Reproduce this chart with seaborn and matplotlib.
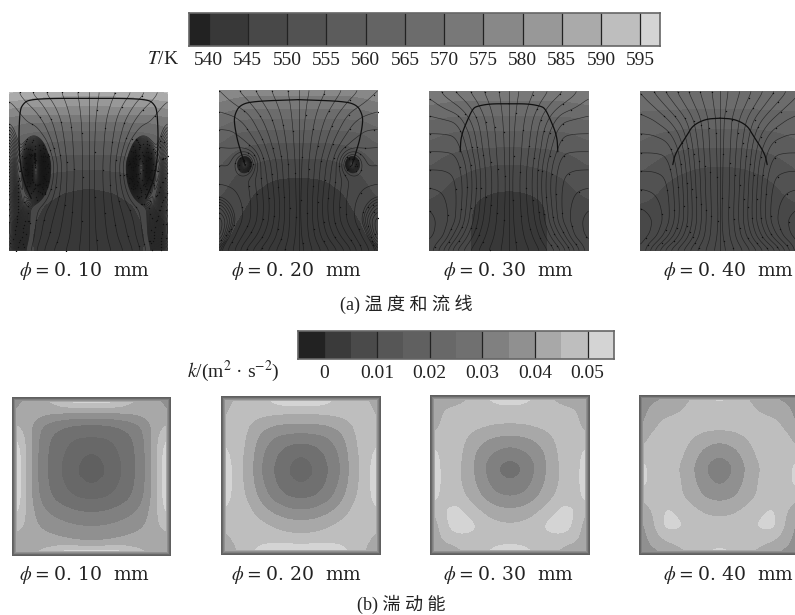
import matplotlib
matplotlib.use("Agg")
import matplotlib.pyplot as plt
from matplotlib.colors import BoundaryNorm, ListedColormap
import numpy as np
import seaborn as sns

W, H = 795, 615

# colour bars
temp_ticks = [540, 545, 550, 555, 560, 565, 570, 575, 580, 585, 590, 595]
temp_greys = ["#222222", "#383838", "#484848", "#525252", "#5c5c5c", "#646464", "#6c6c6c",
              "#787878", "#888888", "#989898", "#aaaaaa", "#bebebe", "#d4d4d4"]
k_ticks = [0, 0.01, 0.02, 0.03, 0.04, 0.05]
k_levels = [0, 0.005, 0.01, 0.015, 0.02, 0.025, 0.03, 0.035, 0.04, 0.045, 0.05]
k_greys = ["#222222", "#3a3a3a", "#4a4a4a", "#565656", "#606060", "#686868", "#707070",
           "#808080", "#909090", "#a8a8a8", "#bebebe", "#d4d4d4"]

diameters = ["0. 10", "0. 20", "0. 30", "0. 40"]

# all fields: rows run top to bottom, columns run wall to centre (right half is the mirror)
temp_1 = [[592, 590, 588, 587.5, 587, 587, 587],
          [581, 580, 580, 580, 580, 580, 580],
          [573, 571, 570.5, 570.5, 570.5, 570.5, 570.5],
          [567, 564, 563, 562.5, 562, 562, 562],
          [563, 560, 558, 557, 556.5, 556.5, 556.5],
          [560, 556, 554, 552.5, 552, 551.5, 551.5],
          [558, 553.5, 551, 549, 548, 547.5, 547.5],
          [556, 552, 548.5, 546.5, 545, 544.5, 544],
          [553, 550, 546, 544, 543.5, 543, 542.5],
          [550.5, 548, 544.8, 543.5, 543, 542.5, 542],
          [548, 547, 544.3, 543.5, 542.5, 542, 542],
          [546, 546, 544.8, 544, 543, 542, 542]]
temp_2 = [[580, 578, 577, 577, 577, 577, 577],
          [574, 572.5, 572, 572, 572, 572, 572],
          [568, 565.5, 565, 564.5, 564.5, 564.5, 564.5],
          [563, 560, 559, 558.5, 558.5, 558.5, 558.5],
          [559, 556, 554.5, 553.5, 553, 553, 553],
          [556, 552.5, 551, 549.8, 549, 548.8, 548.8],
          [553.5, 550, 548, 546.5, 545.2, 544.8, 544.8],
          [551, 548, 546, 544.5, 543.5, 543, 543],
          [548.5, 546.5, 545, 543.5, 542.8, 542.2, 542],
          [547, 545.5, 544, 543, 542.3, 542, 542],
          [546, 544.8, 543.3, 542.5, 542, 542, 542],
          [544.5, 543.5, 542.5, 542, 542, 542, 542]]
temp_3 = [[573, 572.5, 572, 572, 572, 572, 572],
          [570, 569.5, 569, 569, 569, 569, 569],
          [565, 564, 563.5, 563.5, 563.5, 563.5, 563.5],
          [561.5, 560, 559, 558.7, 558.5, 558.5, 558.5],
          [558, 556.5, 555.5, 555, 554.7, 554.5, 554.5],
          [555.5, 553.8, 552.5, 551.5, 550.8, 550.2, 550],
          [553, 551.5, 550, 548.8, 547.8, 547.2, 547],
          [551, 549.8, 548, 546.8, 545.5, 544.9, 544.7],
          [549, 548, 547, 545.6, 543.8, 543.2, 543],
          [547.5, 547, 546.5, 545.5, 543, 542.5, 542.3],
          [546.5, 546.3, 546, 545.5, 543, 542.3, 542],
          [546, 546, 546, 545.5, 543, 542.3, 542]]
temp_4 = [[568, 567.5, 567, 567, 567, 567, 567],
          [566, 566, 566, 566, 566, 566, 566],
          [563.5, 563, 562.5, 562.2, 562, 562, 562],
          [561, 560, 559.2, 558.8, 558.5, 558.5, 558.5],
          [559, 557.5, 556.2, 555.3, 554.8, 554.7, 554.7],
          [556.5, 554.8, 553, 551.7, 550.8, 550.4, 550.4],
          [554, 552.2, 550.5, 549.4, 548.8, 548.5, 548.5],
          [552, 550.5, 549, 548.2, 547.8, 547.5, 547.5],
          [549.5, 548.8, 548, 547.3, 546.8, 546.5, 546.5],
          [547.5, 547.3, 547, 546.6, 546.2, 546, 546],
          [546.5, 546.5, 546.4, 546.2, 546, 546, 546],
          [546, 546, 546, 546, 546, 546, 546]]

# stream function, one contour per streamline
psi_1 = [[8, 6.5, 5, 3.6, 2.4, 1.2, 0],
         [9, 7.8, 6.6, 4.8, 3.1, 1.5, 0],
         [10, 8.8, 8, 6, 3.8, 1.8, 0],
         [11, 9, 10, 7, 4.2, 2, 0],
         [12, 9.5, 16, 8.5, 4.6, 2.1, 0],
         [13, 9.5, 24, 10.5, 5, 2.2, 0],
         [14, 9.5, 22, 10, 5, 2.2, 0],
         [15, 10.5, 14, 8.5, 4.8, 2.1, 0],
         [15.5, 11.5, 9, 6.8, 4.4, 2, 0],
         [16, 12, 8.4, 6, 4, 1.9, 0],
         [16, 12, 8, 5.5, 3.6, 1.7, 0],
         [15, 11, 7, 4.6, 2.9, 1.4, 0]]
psi_2 = [[7, 6, 4.8, 3.6, 2.4, 1.2, 0],
         [8, 7.2, 6.2, 4.6, 3.1, 1.6, 0],
         [9.2, 9, 8, 6, 4, 2, 0],
         [10.4, 10.3, 9.2, 7.2, 4.8, 2.4, 0],
         [11.6, 11.5, 11, 8.6, 5.6, 2.8, 0],
         [12.8, 12.8, 22, 10, 6.6, 3.2, 0],
         [14, 13.8, 13.5, 10.6, 7, 3.4, 0],
         [15.2, 14.8, 13.8, 11, 7.5, 3.6, 0],
         [16.4, 15.5, 14.2, 11.2, 7.8, 3.8, 0],
         [17, 16, 14, 11, 7.5, 3.7, 0],
         [17, 15.2, 12.3, 9.5, 6.5, 3.3, 0],
         [16, 13.5, 9.8, 7, 4.6, 2.3, 0]]
psi_3 = [[8, 6.7, 5.3, 4, 2.6, 1.3, 0],
         [9.2, 8.3, 7.2, 5.5, 3.5, 1.7, 0],
         [10.4, 10.2, 9.8, 7.2, 4.5, 2.1, 0],
         [11.6, 11.6, 11.4, 8.6, 5, 2.4, 0],
         [12.8, 12.8, 12.6, 9.4, 5.4, 2.6, 0],
         [14, 14, 13.8, 10.5, 6, 2.8, 0],
         [15.2, 15.1, 14.5, 11, 6.3, 3, 0],
         [16.4, 16, 14.8, 11, 6.3, 3, 0],
         [17.5, 16.6, 14.8, 10.5, 6, 2.8, 0],
         [18, 17, 14.5, 9.8, 5.5, 2.6, 0],
         [18, 16.5, 12, 8, 4.5, 2.2, 0],
         [17, 13, 8.5, 5.5, 3.2, 1.6, 0]]
psi_4 = [[10, 8.4, 6.7, 5, 3.3, 1.6, 0],
         [11, 10, 8.3, 6.3, 4.2, 2.1, 0],
         [12, 11.6, 10.3, 8.2, 5.5, 2.8, 0],
         [13.1, 13, 12.3, 9.8, 6.2, 3, 0],
         [14.2, 14.2, 14, 11, 6.8, 3.2, 0],
         [15.4, 15.4, 15.1, 11.8, 7.2, 3.4, 0],
         [16.6, 16.5, 16, 12.3, 7.6, 3.5, 0],
         [17.8, 17.5, 16.5, 12.6, 7.8, 3.6, 0],
         [19, 18.3, 16.8, 12.8, 8, 3.8, 0],
         [20, 19, 16.8, 12.6, 8, 3.8, 0],
         [20, 18.5, 15, 11, 7, 3.4, 0],
         [19, 14.5, 10.5, 7.5, 4.5, 2.2, 0]]

# interface outline, half panel, fractions of the panel
iface_x_1 = [0.5, 0.25, 0.12, 0.09, 0.07, 0.063, 0.063, 0.07, 0.095, 0.14]
iface_y_1 = [0.04, 0.04, 0.05, 0.075, 0.11, 0.23, 0.33, 0.45, 0.57, 0.67]
iface_x_2 = [0.5, 0.21, 0.13, 0.10, 0.095, 0.113, 0.13, 0.165]
iface_y_2 = [0.06, 0.07, 0.095, 0.15, 0.2, 0.3, 0.36, 0.47]
iface_x_3 = [0.5, 0.38, 0.30, 0.275, 0.245, 0.20, 0.195]
iface_y_3 = [0.08, 0.08, 0.095, 0.11, 0.17, 0.28, 0.38]
iface_x_4 = [0.5, 0.41, 0.33, 0.295, 0.22, 0.205]
iface_y_4 = [0.17, 0.175, 0.215, 0.275, 0.39, 0.46]

k_1 = [[.036, .040, .044, .047, .054, .056, .056],
       [.039, .045, .0425, .0415, .041, .0405, .0405],
       [.046, .0435, .036, .032, .03, .0287, .0285],
       [.053, .045, .0345, .029, .026, .024, .0238],
       [.058, .045, .034, .0282, .0245, .021, .019],
       [.059, .045, .034, .028, .0235, .0195, .0165],
       [.059, .045, .034, .0285, .0245, .021, .0195],
       [.058, .045, .035, .03, .027, .0248, .0243],
       [.053, .045, .0375, .034, .032, .0305, .03],
       [.047, .0445, .04, .038, .0365, .0355, .0353],
       [.042, .0435, .043, .042, .041, .0397, .0395],
       [.038, .042, .046, .05, .056, .056, .056]]
k_2 = [[.041, .045, .047, .048, .053, .057, .057],
       [.043, .047, .0478, .0475, .047, .0466, .0465],
       [.046, .0478, .0455, .042, .040, .0392, .039],
       [.049, .048, .0445, .038, .034, .032, .0315],
       [.053, .048, .0435, .0358, .031, .027, .025],
       [.057, .048, .043, .035, .0295, .025, .022],
       [.057, .048, .0435, .0358, .0305, .026, .0245],
       [.055, .048, .0445, .0385, .033, .030, .029],
       [.049, .048, .0465, .0425, .039, .0365, .0355],
       [.046, .048, .048, .0465, .0445, .043, .0425],
       [.042, .046, .0485, .0485, .048, .0475, .047],
       [.038, .044, .048, .053, .058, .058, .058]]
k_3 = [[.040, .040, .042, .045, .049, .053, .055],
       [.040, .0455, .0465, .0475, .048, .048, .0478],
       [.042, .0465, .0478, .047, .046, .0452, .045],
       [.046, .048, .0475, .044, .041, .039, .0385],
       [.053, .048, .047, .042, .037, .034, .032],
       [.056, .0478, .0465, .0415, .0355, .03, .027],
       [.056, .048, .0465, .042, .037, .032, .0305],
       [.053, .048, .0475, .044, .0395, .036, .035],
       [.044, .050, .052, .048, .0445, .042, .0412],
       [.041, .048, .054, .052, .048, .0465, .0458],
       [.040, .046, .047, .048, .048, .048, .048],
       [.04, .040, .043, .047, .049, .053, .056]]
k_4 = [[.036, .038, .040, .042, .045, .049, .052],
       [.037, .042, .043, .0445, .047, .048, .048],
       [.039, .0435, .047, .0475, .0478, .0475, .0473],
       [.042, .047, .048, .0475, .045, .0425, .0413],
       [.0475, .048, .0478, .0465, .0425, .038, .036],
       [.053, .0478, .0468, .0452, .0405, .035, .031],
       [.053, .0478, .047, .0458, .0415, .0365, .034],
       [.046, .048, .0478, .046, .043, .0395, .0382],
       [.041, .0455, .051, .049, .0465, .0445, .0438],
       [.038, .044, .052, .051, .048, .047, .047],
       [.037, .042, .0455, .047, .048, .048, .048],
       [.036, .038, .040, .043, .046, .05, .052]]

# k falls off sharply at the cell walls (distance in panel fractions)
wall_dist = [0, 0.008, 0.016, 0.028, 0.04]
wall_k = [0.012, 0.022, 0.032, 0.042, 0.06]

temp_fields = [temp_1, temp_2, temp_3, temp_4]
psi_fields = [psi_1, psi_2, psi_3, psi_4]
iface_x = [iface_x_1, iface_x_2, iface_x_3, iface_x_4]
iface_y = [iface_y_1, iface_y_2, iface_y_3, iface_y_4]
k_fields = [k_1, k_2, k_3, k_4]
vortex_start = [10, 15.5, None, None]

sns.set_theme(style="white")
plt.rcParams["font.family"] = ["Liberation Serif", "Noto Sans CJK SC"]
plt.rcParams["mathtext.fontset"] = "stix"

fig = plt.figure(figsize=(W / 100, H / 100), dpi=100, facecolor="white")


def add_ax(x0, y0, x1, y1):
    return fig.add_axes([x0 / W, 1 - y1 / H, (x1 - x0) / W, (y1 - y0) / H])


def smooth(half, n=160, box=9):
    half = np.asarray(half, float)
    full = np.hstack([half, half[:, -2::-1]])
    xs = np.linspace(0, full.shape[1] - 1, n)
    ys = np.linspace(0, full.shape[0] - 1, n)
    rows = np.array([np.interp(xs, np.arange(full.shape[1]), r) for r in full])
    grid = np.array([np.interp(ys, np.arange(full.shape[0]), c) for c in rows.T]).T
    kernel = np.ones(box) / box
    for _ in range(2):
        pad = np.pad(grid, box, mode="edge")
        pad = np.apply_along_axis(np.convolve, 0, pad, kernel, mode="same")
        pad = np.apply_along_axis(np.convolve, 1, pad, kernel, mode="same")
        grid = pad[box:-box, box:-box]
    return grid


def round_line(x, y):
    # corner cutting, so the outline is not a polygon
    pts = np.column_stack([x, y])
    for _ in range(3):
        a, b = pts[:-1], pts[1:]
        cut = np.empty((2 * len(a), 2))
        cut[0::2] = 0.75 * a + 0.25 * b
        cut[1::2] = 0.25 * a + 0.75 * b
        pts = np.vstack([pts[:1], cut, pts[-1:]])
    return pts[:, 0], pts[:, 1]


def colour_bar(ax, ticks, step, greys, levels, line_ticks):
    # half-step cells so the first and last colours come out half as wide
    half = step / 2
    cells = np.arange(ticks[0] - half, ticks[-1] + half, half) + half / 2
    norm = BoundaryNorm(levels, len(greys))
    sns.heatmap(cells[None, :], cmap=ListedColormap(greys), norm=norm, cbar=False,
                xticklabels=False, yticklabels=False, ax=ax)
    pos = [(t - ticks[0]) / half + 1 for t in ticks]
    ax.set_xticks(pos)
    ax.set_xticklabels([str(t) for t in ticks], rotation=0, fontsize=14, color="#222222")
    ax.tick_params(axis="x", length=0, pad=4)
    ax.vlines([(t - ticks[0]) / half + 1 for t in line_ticks], 0, 1, color="#222222", lw=0.9)
    for s in ax.spines.values():
        s.set_visible(True)
        s.set_color("#666666")
        s.set_linewidth(1.2)


# temperature colour bar
ax = add_ax(189, 13, 660, 46)
colour_bar(ax, temp_ticks, 5, temp_greys, [530] + temp_ticks + [605], temp_ticks)
fig.text(147 / W, 1 - 60 / H, "$T$/K", fontsize=14, va="center", color="#222222")

# k colour bar
ax = add_ax(298, 331, 614, 359)
colour_bar(ax, k_ticks, 0.01, k_greys, [-0.01] + k_levels + [0.06], k_ticks)
fig.text(280 / W, 1 - 371 / H, "$k$/(m$^2$ · s$^{-2}$)", fontsize=14, ha="right", va="center",
         color="#222222")

# temperature + streamlines
temp_boxes = [(9, 92, 168, 251), (219, 90, 378, 251), (429, 91, 589, 251), (640, 91, 800, 251)]
temp_norm = BoundaryNorm([530] + temp_ticks + [605], len(temp_greys))
for i, box in enumerate(temp_boxes):
    ax = add_ax(*box)
    sns.heatmap(smooth(temp_fields[i]), cmap=ListedColormap(temp_greys), norm=temp_norm, cbar=False,
                xticklabels=False, yticklabels=False, ax=ax)
    psi = smooth(psi_fields[i])
    levels = list(np.arange(1.0, 26, 1.5))
    if vortex_start[i] is not None:
        levels = [v for v in levels if v < vortex_start[i]] + list(np.arange(vortex_start[i], psi.max(), 0.2))
    cs = ax.contour(np.arange(160) + 0.5, np.arange(160) + 0.5, psi, levels=levels,
                    colors="#141414", linewidths=0.45, alpha=0.75)
    for path in cs.get_paths():
        if len(path.vertices):
            v = path.vertices[::45]
            ax.plot(v[:, 0], v[:, 1], ls="none", marker="o", ms=1.0, color="#111111", mew=0)
    ax.axvline(80, color="#141414", lw=0.45, alpha=0.75)
    fx, fy = round_line(np.array(iface_x[i]) * 160, np.array(iface_y[i]) * 160)
    ax.plot(fx, fy, color="#111111", lw=0.9)
    ax.plot(160 - fx, fy, color="#111111", lw=0.9)
    ax.set_xlim(0, 160)
    ax.set_ylim(160, 0)

# turbulent kinetic energy
k_boxes = [(12, 397, 171, 556), (221, 396, 381, 555), (430, 395, 590, 555), (639, 395, 800, 555)]
k_norm = BoundaryNorm([-0.01] + k_levels + [0.06], len(k_greys))
for i, box in enumerate(k_boxes):
    ax = add_ax(*box)
    field = smooth(k_fields[i])
    u = (np.arange(160) + 0.5) / 160
    d = np.minimum.outer(np.minimum(u, 1 - u), np.minimum(u, 1 - u))
    field = np.minimum(field, np.interp(d, wall_dist, wall_k))
    sns.heatmap(field, cmap=ListedColormap(k_greys), norm=k_norm, cbar=False,
                xticklabels=False, yticklabels=False, ax=ax)

# labels
label_x = [85, 297, 509, 729]
for x, d in zip(label_x, diameters):
    for y in (271, 575):
        fig.text(x / W, 1 - y / H, "$\\phi\\,{=}\\,$" + d + "  mm", fontsize=13.5, ha="center", va="center",
                 color="#222222", family=["DejaVu Serif", "Noto Sans CJK SC"])
fig.text(406 / W, 1 - 304 / H, "(a) 温 度 和 流 线", fontsize=13, ha="center", va="center", color="#222222")
fig.text(401 / W, 1 - 604 / H, "(b) 湍 动 能", fontsize=13, ha="center", va="center", color="#222222")

fig.savefig("out.png", dpi=100, facecolor="white")
